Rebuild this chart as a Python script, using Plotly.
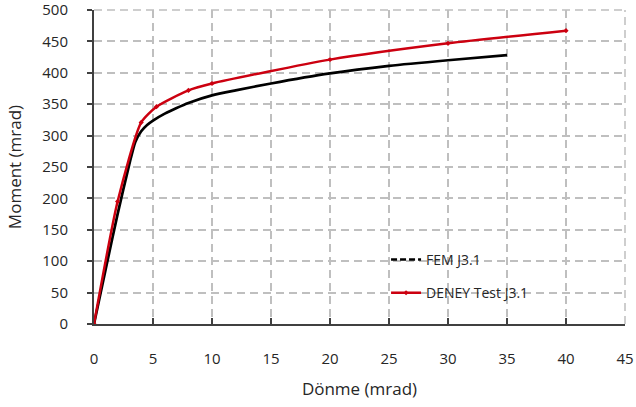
import plotly.graph_objects as go

# FEM J3.1 curve
fem_x = [0, 1, 2, 3, 3.5, 4, 4.5, 5, 6, 7, 8, 10, 12, 15, 20, 25, 30, 35]
fem_y = [0, 88, 175, 255, 290, 307, 317, 324, 335, 344, 352, 364, 372, 383, 399, 411, 420, 428]

# DENEY Test J3.1 curve
test_x = [0, 2, 4, 5.3, 8, 10, 20, 30, 40]
test_y = [0, 195, 321, 346, 372, 383, 421, 447, 467]

x_ticks = [0, 5, 10, 15, 20, 25, 30, 35, 40, 45]
y_ticks = [0, 50, 100, 150, 200, 250, 300, 350, 400, 450, 500]

font_family = "Open Sans, Liberation Sans, sans-serif"
txt = "#262626"
grid_col = "#bfbfbf"

fig = go.Figure()
fig.add_trace(go.Scatter(x=fem_x, y=fem_y, mode="lines", line=dict(color="black", width=2.7, shape="spline", smoothing=0.6),
                         showlegend=False, hoverinfo="skip"))
fig.add_trace(go.Scatter(x=[None], y=[None], mode="lines", name="FEM J3.1", legendgroup="a",
                         line=dict(color="black", width=2.5, dash="6px,3px")))
fig.add_trace(go.Scatter(x=test_x, y=test_y, mode="lines+markers", name="DENEY Test J3.1", legendgroup="b",
                         line=dict(color="#cc0010", width=2.5, shape="spline", smoothing=0.6),
                         marker=dict(size=4, color="#cc0010", symbol="diamond")))

# dashed top and right plot border (grid lines at 500 and 45)
fig.add_shape(type="line", xref="paper", yref="paper", x0=0, x1=1, y0=1, y1=1,
              line=dict(color=grid_col, width=1.5, dash="8px,5px"), layer="below")
fig.add_shape(type="line", xref="paper", yref="paper", x0=1, x1=1, y0=0, y1=1,
              line=dict(color=grid_col, width=1.5, dash="8px,5px"), layer="below")

fig.update_layout(
    width=636, height=407,
    margin=dict(l=94, r=11, t=10, b=83, autoexpand=False),
    paper_bgcolor="white", plot_bgcolor="white",
    font=dict(family=font_family, size=14, color=txt),
    legend=dict(x=0.55, y=0.255, xanchor="left", yanchor="top", bgcolor="rgba(0,0,0,0)",
                font=dict(size=14, color=txt), tracegroupgap=12),
    xaxis=dict(range=[0, 45], tickvals=x_ticks, ticktext=[str(v) for v in x_ticks],
               showgrid=True, gridcolor=grid_col, griddash="8px,5px", gridwidth=1.5,
               showline=True, linecolor="#404040", linewidth=1.5, zeroline=False,
               ticks="inside", ticklen=6, tickcolor="#404040", tickwidth=1.5,
               ticklabelstandoff=20, tickfont=dict(size=15, color=txt), automargin=False,
               ticklabeloverflow="allow",
               title=dict(text="Dönme (mrad)", font=dict(size=17, color=txt), standoff=16)),
    yaxis=dict(range=[0, 500], tickvals=y_ticks, ticktext=[str(v) for v in y_ticks],
               showgrid=True, gridcolor=grid_col, griddash="8px,5px", gridwidth=1.5,
               showline=True, linecolor="#404040", linewidth=2, zeroline=False,
               ticks="outside", ticklen=5, tickcolor="#404040", tickwidth=1.5,
               ticklabelstandoff=16, tickfont=dict(size=15, color=txt), automargin=False,
               ticklabeloverflow="allow",
               title=dict(text="Moment (mrad)", font=dict(size=17, color=txt), standoff=16)),
)

fig.write_html("out.html", config={"displayModeBar": False},
               post_script="document.body.style.margin='0';")
